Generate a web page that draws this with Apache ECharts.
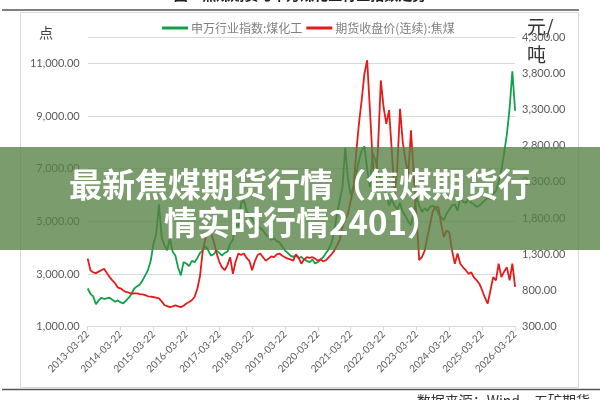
<!DOCTYPE html>
<html><head><meta charset="utf-8">
<script src="https://cdn.jsdelivr.net/npm/echarts@6/dist/echarts.min.js"></script>
<style>html,body{margin:0;padding:0;background:#fff}#c{width:600px;height:400px}</style>
</head><body><div id="c"></div>
<script>
// x tick labels (one per year, 12 months apart)
var tickLabels = ['2013-03-22','2014-03-22','2015-03-22','2016-03-22','2017-03-22','2018-03-22','2019-03-22',
  '2020-03-22','2021-03-22','2022-03-22','2023-03-22','2024-03-22','2025-03-22','2026-03-22'];
var seriesNames = ['申万行业指数:煤化工', '期货收盘价(连续):焦煤'];
// monthly values starting 2013-03 (index = months since first tick)
var indexValues = [2450,2250,2150,1850,2000,2100,2050,2080,2100,2020,1950,2000,
  1920,1890,1990,2100,2250,2450,2530,2600,2750,2950,3150,3500,
  4150,4500,5650,4400,4100,3900,4350,3850,3700,3250,2950,3450,
  3400,3300,3500,3450,3600,3800,3900,4050,3900,3700,3750,3900,
  3800,3700,3800,3850,4150,4300,4900,4800,5700,5800,5400,5200,
  5100,4900,4800,4750,4650,4500,4400,4300,4350,4250,4200,4050,
  3900,3800,3700,3650,3700,3600,3650,3550,3500,3450,3550,3400,
  3450,3550,3650,3800,3950,4200,4600,5300,5800,6300,7800,6600,
  6000,6300,6800,7300,7700,7850,7000,6300,7600,7300,6900,6550,
  6300,6100,5600,5850,5600,5450,5700,5350,5200,5000,4850,5300,
  5950,5600,5350,5500,5400,5550,5600,5500,5300,5150,5050,5300,
  5450,5600,5650,5400,5900,5750,5700,5850,5700,5650,5550,5600,
  5700,5800,5900,5850,6050,6150,6500,6950,7600,8300,9300,10700,9200];
var futuresValues = [1240,1080,1050,1040,1060,1080,1100,1040,985,940,900,840,
  830,800,780,770,755,760,760,750,745,735,720,715,
  710,700,690,650,600,585,570,580,595,580,570,590,
  620,640,665,710,820,1000,1350,1520,1580,1590,1480,1320,
  1200,1120,1080,1150,1260,1030,1200,1310,1290,1310,1250,1210,
  1080,1200,1290,1310,1260,1210,1240,1270,1260,1300,1310,1280,
  1260,1240,1230,1210,1300,1250,1170,1230,1260,1250,1260,1240,
  1210,1230,1200,1220,1260,1300,1350,1420,1500,1680,1780,1860,
  2040,2200,2700,3100,3430,3790,3980,3300,2600,2200,2800,3700,
  3330,3100,3290,2730,2100,2500,3310,2850,2600,2400,3010,2400,
  1810,1220,1260,1350,1540,1720,1900,1950,1950,1720,1540,1630,
  1600,1350,1170,1310,1170,1120,1080,1030,1050,980,940,890,
  800,700,620,800,985,940,1170,985,1060,1120,940,1170,850];

function pairs(arr){ return arr.map(function(v,i){ return [i, v]; }); }
function fmt(v){ return Number(v).toLocaleString('en-US',{minimumFractionDigits:2, maximumFractionDigits:2}); }

var chart = echarts.init(document.getElementById('c'), null, {renderer:'canvas'});
var labelFont = 'Lato, "Liberation Sans", sans-serif';
chart.setOption({
  animation: false,
  backgroundColor: '#fff',
  legend: {
    left: 157, top: 17, icon: 'rect', itemWidth: 26, itemHeight: 3, itemGap: 4,
    textStyle: {fontSize: 12, color: '#808080', fontFamily: '"Noto Sans CJK SC", sans-serif', padding: [0,0,0,-2]},
    data: seriesNames
  },
  grid: {left: 87.7, right: 84.9, top: 37, bottom: 73.3, containLabel: false},
  xAxis: {
    type: 'value', min: 0, max: (tickLabels.length - 1) * 12, interval: 12,
    axisLine: {show: true, lineStyle: {color: '#d9d9d9'}},
    axisTick: {show: true, length: 4, lineStyle: {color: '#d9d9d9'}},
    splitLine: {show: false},
    axisLabel: {rotate: 45, margin: 6, fontSize: 10, color: '#595959', fontFamily: labelFont,
      formatter: function(v){ return tickLabels[Math.round(v/12)] || ''; }}
  },
  yAxis: [{
    type: 'value', min: 1000, max: 12000, interval: 2000, position: 'left',
    axisLine: {show: false}, axisTick: {show: false},
    splitLine: {show: true, lineStyle: {color: '#d9d9d9'}},
    axisLabel: {margin: 8, fontSize: 11, color: '#595959', fontFamily: labelFont, showMaxLabel: false, formatter: fmt}
  }, {
    type: 'value', min: 300, max: 4300, interval: 500, position: 'right',
    axisLine: {show: false}, axisTick: {show: false}, splitLine: {show: false},
    axisLabel: {margin: 7, fontSize: 11, color: '#595959', fontFamily: labelFont, formatter: fmt}
  }],
  series: [{
    name: seriesNames[0], type: 'line', yAxisIndex: 0, showSymbol: false,
    data: pairs(indexValues), lineStyle: {width: 1.8, color: '#12a04a'}, itemStyle: {color: '#12a04a'}
  }, {
    name: seriesNames[1], type: 'line', yAxisIndex: 1, showSymbol: false,
    data: pairs(futuresValues), lineStyle: {width: 1.8, color: '#e41b1b'}, itemStyle: {color: '#e41b1b'}
  }],
  graphic: [
    {type:'rect', z:-1, shape:{x:20.5, y:12.5, width:558, height:375}, style:{fill:'none', stroke:'#d9d9d9', lineWidth:1}},
    {type:'line', shape:{x1:2, y1:10, x2:579, y2:10}, style:{stroke:'#555', lineWidth:1.5}},
    {type:'line', shape:{x1:2, y1:389.5, x2:600, y2:389.5}, style:{stroke:'#555', lineWidth:1.5}},
    {type:'text', x:300, y:-5, style:{text:'图3  焦煤期货与申万煤化工行业指数走势', fill:'#222', font:'bold 14px "Noto Sans CJK SC"', align:'center', verticalAlign:'middle'}},
    {type:'text', x:46, y:33, style:{text:'点', fill:'#404040', font:'14px "Noto Sans CJK SC"', align:'center', verticalAlign:'middle'}},
    {type:'text', x:527, y:27, style:{text:'元/', fill:'#333', font:'19px "Noto Sans CJK SC"', align:'left', verticalAlign:'middle'}},
    {type:'text', x:527, y:55, style:{text:'吨', fill:'#333', font:'19px "Noto Sans CJK SC"', align:'left', verticalAlign:'middle'}},
    {type:'text', x:590, y:401, style:{text:'数据来源：Wind，五矿期货', fill:'#333', font:'14px "Noto Sans CJK SC"', align:'right', verticalAlign:'middle'}},
    {type:'rect', z:100, shape:{x:0, y:147, width:600, height:103}, style:{fill:'rgba(86,128,66,0.78)'}},
    {type:'text', z:101, x:300, y:184, style:{text:'最新焦煤期货行情（焦煤期货行', fill:'#fff', font:'bold 33px "Noto Sans CJK SC"', align:'center', verticalAlign:'middle'}},
    {type:'text', z:101, x:302, y:222, style:{text:'情实时行情2401）', fill:'#fff', font:'bold 33px "Noto Sans CJK SC"', align:'center', verticalAlign:'middle'}}
  ]
});
</script></body></html>
